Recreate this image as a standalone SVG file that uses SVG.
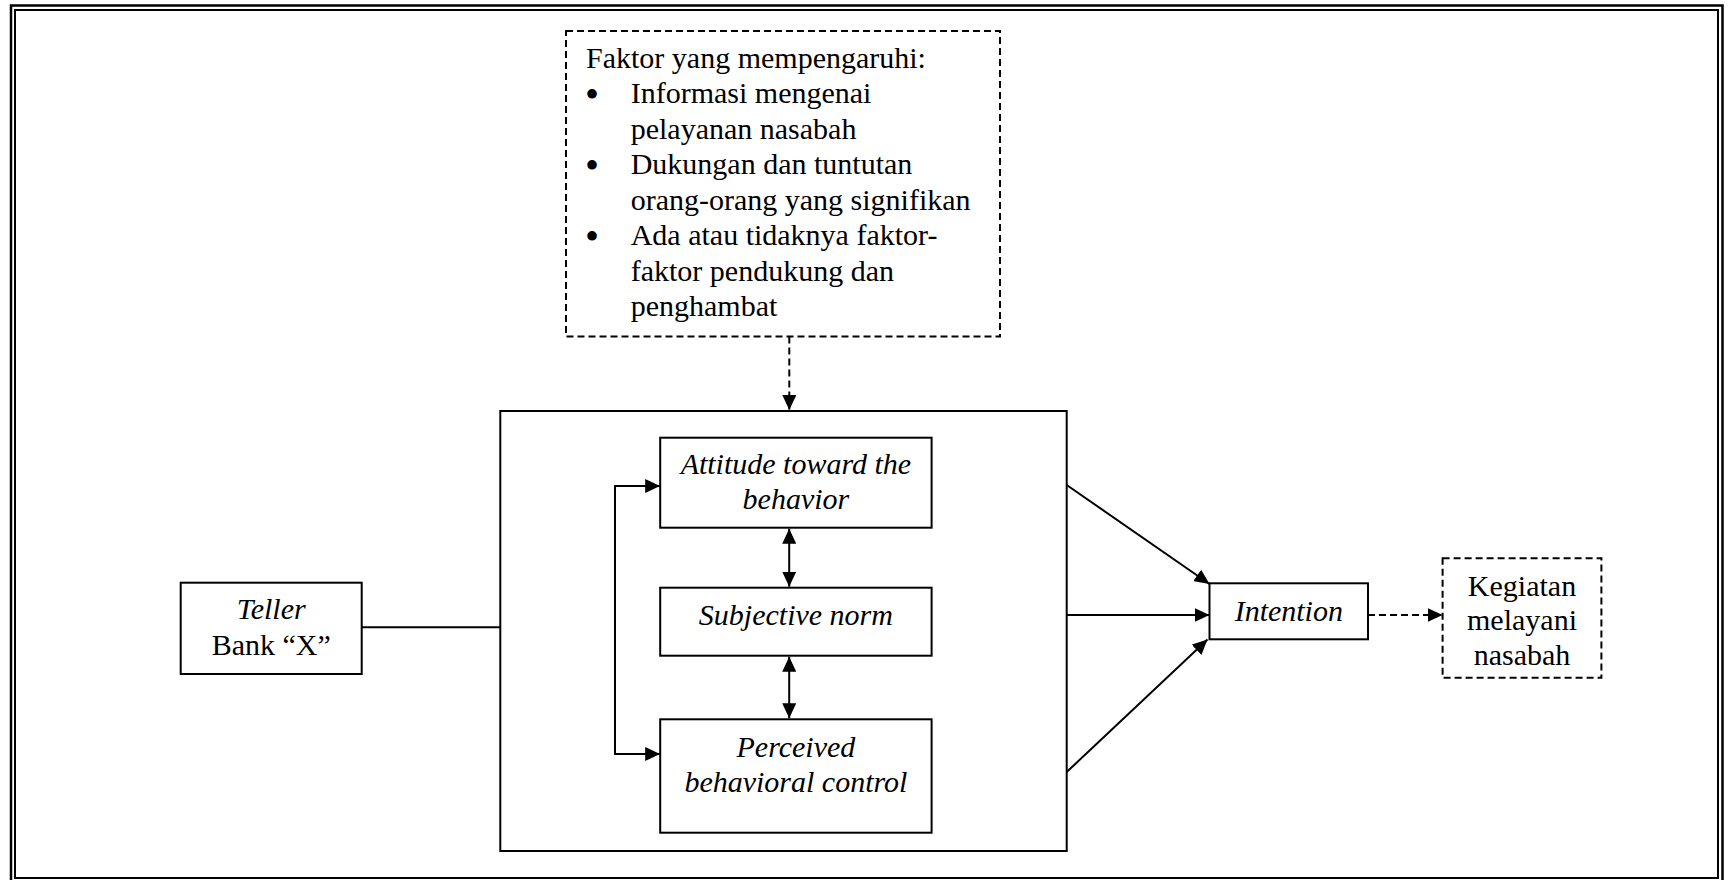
<svg xmlns="http://www.w3.org/2000/svg" width="1728" height="880" viewBox="0 0 1728 880">
<defs>
<style>
.box{fill:#fff;stroke:#000;stroke-width:2}
.dbox{fill:#fff;stroke:#000;stroke-width:2;stroke-dasharray:7 4}
.t{font-family:"Liberation Serif","Times New Roman",serif;font-size:30px;fill:#000}
.c{text-anchor:middle}
.i{font-style:italic}
.ln{fill:none;stroke:#000;stroke-width:2}
.dl{fill:none;stroke:#000;stroke-width:2;stroke-dasharray:7 4}
.bul{font-family:"Liberation Serif","Times New Roman",serif;font-size:40px;fill:#000;text-anchor:middle}
</style>
<marker id="ah" markerUnits="userSpaceOnUse" markerWidth="15" markerHeight="14" viewBox="0 0 15 14" refX="15" refY="7" orient="auto-start-reverse">
<path d="M0,0 L15,7 L0,14 z" fill="#000"/>
</marker>
</defs>
<rect width="1728" height="880" fill="#fff"/>
<g id="frame" fill="none" stroke="#000">
<rect x="11" y="5.5" width="1711.5" height="885" stroke-width="2.5"/>
<rect x="15" y="10" width="1703" height="868" stroke-width="2"/>
</g>
<g id="factors">
<rect class="dbox" x="566" y="31" width="434" height="305.5"/>
<text class="t" x="586" y="67.7">Faktor yang mempengaruhi:</text>
<text class="bul" x="592" y="108">•</text>
<text class="t" x="630.7" y="103.2">Informasi mengenai</text>
<text class="t" x="630.7" y="138.6">pelayanan nasabah</text>
<text class="bul" x="592" y="179">•</text>
<text class="t" x="630.7" y="174.1">Dukungan dan tuntutan</text>
<text class="t" x="630.7" y="209.6">orang-orang yang signifikan</text>
<text class="bul" x="592" y="250">•</text>
<text class="t" x="630.7" y="245">Ada atau tidaknya faktor-</text>
<text class="t" x="630.7" y="280.5">faktor pendukung dan</text>
<text class="t" x="630.7" y="316">penghambat</text>
</g>
<g id="main">
<rect class="box" x="500.3" y="411" width="566.4" height="440"/>
</g>
<g id="attitude">
<rect class="box" x="660.2" y="437.7" width="271.4" height="90"/>
<text class="t c i" x="795.9" y="474">Attitude toward the</text>
<text class="t c i" x="795.9" y="509">behavior</text>
</g>
<g id="subjective">
<rect class="box" x="660.2" y="587.7" width="271.4" height="68"/>
<text class="t c i" x="795.9" y="625">Subjective norm</text>
</g>
<g id="perceived">
<rect class="box" x="660.2" y="719.3" width="271.4" height="113.4"/>
<text class="t c i" x="795.9" y="756.7">Perceived</text>
<text class="t c i" x="795.9" y="791.7">behavioral control</text>
</g>
<g id="teller">
<rect class="box" x="180.7" y="582.7" width="181" height="91.3"/>
<text class="t c i" x="271.2" y="619.3">Teller</text>
<text class="t c" x="271.2" y="655">Bank “X”</text>
</g>
<g id="intention">
<rect class="box" x="1209.5" y="583.3" width="158.5" height="56"/>
<text class="t c i" x="1288.8" y="620.7">Intention</text>
</g>
<g id="kegiatan">
<rect class="dbox" x="1442.6" y="558.3" width="158.8" height="119.4"/>
<text class="t c" x="1522" y="595.7">Kegiatan</text>
<text class="t c" x="1522" y="630.2">melayani</text>
<text class="t c" x="1522" y="664.7">nasabah</text>
</g>
<g id="connectors">
<path class="dl" d="M789.3,336.5 V410" marker-end="url(#ah)"/>
<path class="ln" d="M361.7,627.3 H500.3"/>
<path class="ln" d="M660.2,486 H615 V754 H660.2" marker-start="url(#ah)" marker-end="url(#ah)"/>
<path class="ln" d="M789.2,528.7 V586.7" marker-start="url(#ah)" marker-end="url(#ah)"/>
<path class="ln" d="M789.2,656.7 V718.3" marker-start="url(#ah)" marker-end="url(#ah)"/>
<path class="ln" d="M1066.7,485 L1209.5,584" marker-end="url(#ah)"/>
<path class="ln" d="M1066.7,615 H1209.5" marker-end="url(#ah)"/>
<path class="ln" d="M1066.7,772 L1207.5,639.5" marker-end="url(#ah)"/>
<path class="dl" d="M1368,615 H1442.6" marker-end="url(#ah)"/>
</g>
</svg>
